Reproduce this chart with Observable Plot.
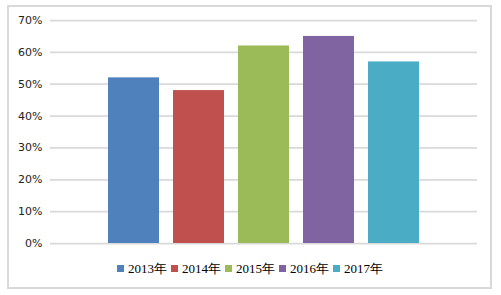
<!DOCTYPE html>
<html>
<head>
<meta charset="utf-8">
<script src="https://cdn.jsdelivr.net/npm/d3@7"></script>
<script src="https://cdn.jsdelivr.net/npm/@observablehq/plot@0.6"></script>
<style>
  html, body { margin: 0; padding: 0; background: #fff; }
  #wrap { position: relative; width: 501px; height: 295px; overflow: hidden; }
  #frame { position: absolute; left: 7px; top: 5px; width: 485px; height: 284px; box-sizing: border-box; border: 2px solid #d9d9d9; }
  #chart { position: absolute; left: 0; top: 0; }
  #legend { position: absolute; top: 260px; left: 117px; display: flex; gap: 4px; font-family: "Liberation Serif", "Times New Roman", serif; font-size: 13px; line-height: 17px; color: #000; white-space: nowrap; }
  #legend .item { display: flex; align-items: center; }
  #legend .sw { width: 7px; height: 7px; margin-right: 4px; }
</style>
</head>
<body>
<div id="wrap">
  <div id="frame"></div>
  <div id="chart"></div>
  <div id="legend"></div>
</div>
<script>
const years = ["2013年", "2014年", "2015年", "2016年", "2017年"];
const values = [0.52, 0.48, 0.62, 0.65, 0.57];
const colors = ["#4f81bd", "#c0504d", "#9bbb59", "#8064a2", "#4bacc6"];
const yTicks = [0, 0.1, 0.2, 0.3, 0.4, 0.5, 0.6, 0.7];

const data = years.map((y, i) => ({year: y, value: values[i]}));

const plot = Plot.plot({
  width: 501,
  height: 255,
  marginLeft: 50,
  marginRight: 24,
  marginTop: 20,
  marginBottom: 12,
  style: {fontFamily: "'DejaVu Sans', Verdana, sans-serif", fontSize: "11px", color: "#222", background: "transparent"},
  x: {domain: years, range: [99, 428], paddingInner: 0.21, paddingOuter: 0.105, axis: null},
  y: {domain: [0, 0.7], ticks: yTicks, tickFormat: d3.format(".0%"), tickSize: 0, tickPadding: 8, label: null},
  color: {domain: years, range: colors},
  marks: [
    Plot.ruleY(yTicks, {stroke: "#d9d9d9", strokeWidth: 1.75}),
    Plot.barY(data, {x: "year", y: "value", fill: "year"})
  ]
});
document.getElementById("chart").appendChild(plot);

const legend = document.getElementById("legend");
years.forEach((y, i) => {
  const item = document.createElement("div");
  item.className = "item";
  const sw = document.createElement("span");
  sw.className = "sw";
  sw.style.background = colors[i];
  const t = document.createElement("span");
  t.textContent = y;
  item.appendChild(sw);
  item.appendChild(t);
  legend.appendChild(item);
});
</script>
</body>
</html>
